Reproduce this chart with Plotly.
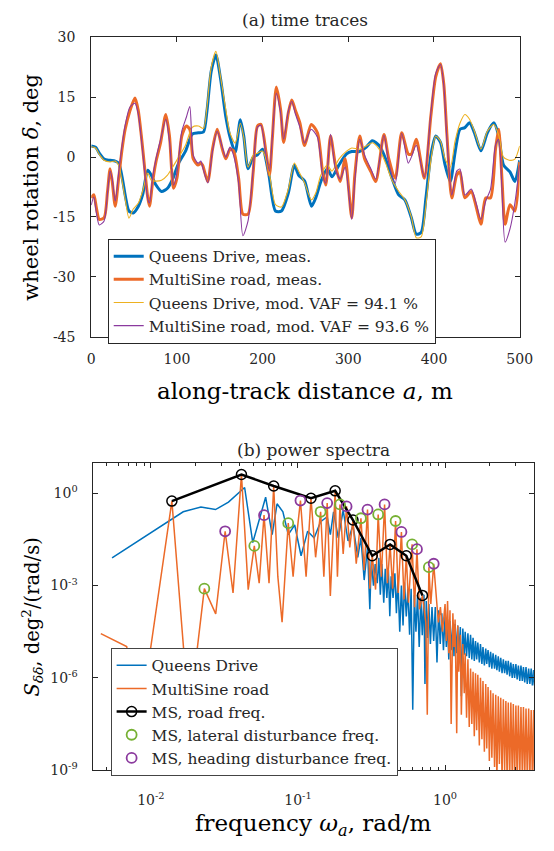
import numpy as np
import plotly.graph_objects as go

# ---------------- (a) time traces ----------------
qd_meas_dist = [0, 5, 10, 15, 22, 28, 32, 36, 40, 44, 49, 55, 60, 66, 70, 75, 82, 89, 95, 102,
                110, 118, 125, 131, 135, 140, 145.5, 151, 157, 162, 168, 174, 178, 183, 189, 194, 200,
                207, 215, 222, 230, 237, 242, 249, 257, 262, 268, 275.5, 281, 289, 298, 304, 313, 321,
                328, 336, 343.5, 351, 358.6, 366, 373.6, 379.3, 385, 390.6, 396.3, 402, 407.6, 413,
                419, 424.6, 430.3, 436, 441.5, 447.2, 454.8, 462.3, 469.9, 475.5, 481.2, 488.7, 494.4, 500]
qd_meas = [2.8, 2.5, 0.8, -0.5, -0.8, -1.0, -1.5, -5, -10, -13.5, -14, -12.3, -9.4, -3.3, -4.5, -6.8,
           -8.6, -7.8, -5.5, -1.5, 1.5, 5.8, 6.1, 6.3, 11.5, 21.5, 25.6, 19.5, 10.2, 5, 1.2, 9.4, 5.3,
           -2.9, 0, 0.6, 2, -4, -13.5, -13.5, -9.0, -2.0, -4.5, -6, -12.3, -10.2, -6.1, -2.9, -4.9, -2,
           0.8, 1.4, 1.4, 2.5, 4.1, 2.9, -0.4, -5.3, -9.4, -10.7, -15.2, -19.3, -18.9, -10.2, 0.4, 5.3,
           3.7, -2, -6.1, 1.2, 7, 7.4, 8.6, 6.1, 1.6, 6.1, 8.6, 5.3, -2, -3.7, -6.1, -0.8]

qd_mod_dist = qd_meas_dist
qd_mod = [2.6, 2.3, 0.5, -0.8, -1.2, -1.0, -2.0, -6, -11, -15.3, -13, -11.5, -8.5, -4.0, -5.8, -6.0,
          -5.8, -4.5, -2.5, 0, 3, 7.5, 7.8, 7.2, 12.5, 22.5, 26.5, 20, 12, 6, 3.5, 8.5, 5, -2.5, 0.5,
          1, 1.5, -3, -11.9, -12.5, -8.0, -1.5, -3.5, -6.5, -10.7, -9, -4.5, -2, -3.5, -0.5, 1.5, 2.3,
          2.0, 2.8, 3.6, 2.0, -1.5, -5.8, -8.5, -10.7, -15, -20.2, -20, -12, -1, 5.3, 4, -0.5, -2.5,
          4, 8.5, 10.7, 9.5, 6.5, 2, 6.5, 8.2, 5.5, 0, -0.8, -0.5, 2.8]

ms_meas_dist = [0, 3, 6, 9.4, 15, 19, 22, 24.5, 28, 32, 36, 39.6, 45, 51, 54.7, 58.5, 62, 66, 68, 71.7,
                75.5, 81, 87, 91.3, 96, 100, 105.7, 111, 115, 119, 124.5, 128, 130, 136, 141.5, 147,
                153, 157, 162, 166, 172, 177, 183, 189, 194, 198, 204, 208, 211.3, 216, 221, 224.5,
                230, 234, 238, 243.5, 249, 256.7, 264, 270, 273.7, 279.3, 285, 290.6, 296.3, 304,
                307.6, 313.3, 319, 326.5, 332, 341.6, 347.2, 354.8, 362.3, 370, 373.6, 379.3, 388.7,
                396.3, 402, 407.6, 411.4, 415.2, 420.8, 426.5, 430.3, 436, 443.5, 449.1, 454.8, 460.4,
                466, 471.8, 475.5, 479.3, 483, 488.7, 494.4, 500]
ms_meas = [-10.2, -9.4, -12.7, -15.6, -15.2, -8.6, -2.9, -6.1, -12.3, -5.3, 2, 7, 11.5, 14.8, 11.9,
           5.3, -2, -10.2, -12.3, -6.1, -1.2, 3.7, 10.7, 5.3, -7.8, -5.3, 5.3, 7.8, 7, -0.4, -2, -1.5,
           -2, -6.1, 2, 7, 2, -0.4, 2, 1.6, -5.3, -14.3, -14.3, -3.7, 7.8, 8.2, 1.2, -4.5, 4.5, 17.6,
           11.9, 3.7, 11.1, 14.3, 11.9, 8.6, 2.9, 8.2, 6.1, -3.7, -7, 5.3, -2, -6.1, -0.4, -15.2,
           -4.5, 5.3, -0.4, -3.7, -6.1, 5.7, -0.4, -5.3, 6.1, 0.8, 0.8, 4.5, -5.3, 10.2, 20.1, 23.4,
           18.4, 5.3, -10.2, -4.5, -3.7, -10.2, -8.6, -12.3, -16.8, -10.2, -10.2, 2, 7, -5.3, -16.8,
           -11.9, -13.5, -1.2]

ms_mod_dist = ms_meas_dist
ms_mod = [-12, -10, -14, -17.0, -16, -9, -3.5, -5.5, -11, -4, 3, 8, 12.5, 13.5, 11, 4.5, -3, -10.5,
          -11.5, -5, -0.5, 4.5, 9.5, 4, -7, -4, 6.5, 10, 12.7, 0.5, -1.5, -1, -2.5, -6.5, 1.5, 6.5,
          2.5, 0, 2.5, 0.5, -6.5, -19.7, -16, -3, 7.5, 8, 0.5, -3.5, 5, 16, 11, 4.5, 11.5, 14, 11,
          7.5, 3.5, 7, 5, -4.5, -6.5, 5.7, -3, -5.5, -2.5, -15.6, -6, 4.5, 0.5, -3, -5.5, 5.5, -1.5,
          -6.5, 6, -1.5, 0, 3, -5, 11, 21, 23.2, 18, 4, -9.5, -3.5, -3, -9.5, -8, -11.5, -15.6, -11,
          -8, 3, 4.5, -8, -21.3, -18, -11.5, -2]

dist_ticks = [0, 100, 200, 300, 400, 500]
rot_ticks = [-45, -30, -15, 0, 15, 30]
rot_ticktext = ["-45", "-30", "-15", "0", "15", "30"]

# ---------------- (b) power spectra (log10 of PSD) ----------------
qd_freq = [0.00545, 0.0166, 0.0219, 0.0275, 0.0337, 0.0434, 0.0493, 0.0603, 0.0668, 0.0721, 0.079,
           0.0859, 0.095, 0.105, 0.1164, 0.1288, 0.1426, 0.158, 0.166, 0.1746, 0.188, 0.203, 0.219,
           0.2366, 0.255, 0.268, 0.282,
           0.297, 0.308, 0.315, 0.326, 0.335, 0.346, 0.355, 0.363, 0.372, 0.383, 0.392, 0.402, 0.412,
           0.421, 0.43, 0.443, 0.456, 0.467, 0.478, 0.492, 0.505, 0.518, 0.53, 0.545, 0.559, 0.574,
           0.588, 0.603, 0.618, 0.634, 0.65, 0.667, 0.684, 0.70, 0.719, 0.73, 0.745, 0.76, 0.776,
           0.795, 0.815, 0.837, 0.858, 0.881, 0.904, 0.927, 0.95, 0.975,
           1.00, 1.02, 1.04, 1.06, 1.08, 1.10, 1.13, 1.15, 1.17, 1.20,
           1.22, 1.24, 1.27, 1.29, 1.32, 1.35, 1.37, 1.40, 1.43, 1.46,
           1.49, 1.52, 1.55, 1.58, 1.61, 1.64, 1.67, 1.71, 1.74, 1.78,
           1.81, 1.85, 1.89, 1.92, 1.96, 2.00, 2.04, 2.08, 2.12, 2.17,
           2.21, 2.25, 2.30, 2.34, 2.39, 2.44, 2.49, 2.54, 2.59, 2.64,
           2.69, 2.75, 2.80, 2.86, 2.91, 2.97, 3.03, 3.09, 3.15, 3.22,
           3.28, 3.35, 3.41, 3.48, 3.55, 3.62, 3.70, 3.77, 3.85, 3.92,
           4.00, 4.05]
qd_log_psd = [-2.10, -0.60, -0.443, -0.528, -0.285, 0.19, -1.60, -0.127, -1.34, -0.34, -0.6,
              -1.34, -1.03, -2.03, -1.23, -1.45, -0.92, -0.76, -1.34, -0.60, -1.45, -0.55, -1.55,
              -1.03, -2.08, -1.45, -2.82,
              -1.76, -3.77, -2.2, -3.0, -2.3, -2.92, -2.1, -3.3, -2.3, -3.56, -2.45, -3.4, -2.5,
              -4.0, -2.7, -3.4, -2.6, -3.9, -2.8, -4.5, -3.0, -4.3, -2.9, -4.0, -3.1, -4.6,
              -3.1, -7.04, -3.3, -4.5, -3.3, -5.0, -3.4, -4.61, -3.3, -6.2, -3.5, -4.7, -3.6,
              -4.9, -3.7, -4.8, -3.7, -5.5, -3.8, -4.9, -3.9, -5.1,
              -4.0, -5.0, -4.1, -5.4, -4.15, -5.1, -4.2, -5.3, -4.25, -5.2,
              -4.3, -5.3, -4.35, -6.6, -4.4, -5.25, -4.5, -5.3, -4.55, -5.35,
              -4.6, -5.4, -4.7, -5.45, -4.8, -5.4, -4.85, -5.5, -4.9, -5.55,
              -5.0, -5.6, -5.05, -5.55, -5.1, -5.65, -5.15, -5.7, -5.2, -5.7,
              -5.25, -5.75, -5.3, -5.8, -5.35, -5.85, -5.4, -5.85, -5.45, -5.9,
              -5.45, -5.95, -5.5, -6.0, -5.55, -6.0, -5.55, -6.05, -5.6, -6.1,
              -5.6, -6.1, -5.65, -6.15, -5.65, -6.2, -5.7, -6.2, -5.7, -6.25,
              -5.75, -6.25]

ms_freq = [0.00457, 0.00685, 0.0084, 0.0139, 0.0182, 0.0231, 0.0276, 0.032, 0.0362, 0.0413, 0.0459,
           0.0505, 0.0545, 0.0588, 0.0636, 0.0684, 0.073, 0.078, 0.0859, 0.0927, 0.0976, 0.104,
           0.1136, 0.1226, 0.1318, 0.1426, 0.150, 0.158, 0.166, 0.179, 0.1855, 0.193, 0.203, 0.214,
           0.225, 0.2366, 0.249, 0.268, 0.282, 0.297, 0.308, 0.32, 0.337, 0.351, 0.369, 0.388, 0.406,
           0.423, 0.44, 0.461, 0.48, 0.505, 0.526, 0.545, 0.564, 0.597, 0.62, 0.644, 0.67, 0.702,
           0.74, 0.757, 0.776, 0.80, 0.837, 0.88, 0.90, 0.93, 0.96,
           1.00, 1.02, 1.04, 1.06, 1.08, 1.10, 1.13, 1.15, 1.17, 1.20,
           1.22, 1.24, 1.27, 1.29, 1.32, 1.35, 1.37, 1.40, 1.43, 1.46,
           1.49, 1.52, 1.55, 1.58, 1.61, 1.64, 1.67, 1.71, 1.74, 1.78,
           1.81, 1.85, 1.89, 1.92, 1.96, 2.00, 2.04, 2.08, 2.12, 2.17,
           2.21, 2.25, 2.30, 2.34, 2.39, 2.44, 2.49, 2.54, 2.59, 2.64,
           2.69, 2.75, 2.80, 2.86, 2.91, 2.97, 3.03, 3.09, 3.15, 3.22,
           3.28, 3.35, 3.41, 3.48, 3.55, 3.62, 3.70, 3.77, 3.85, 3.92,
           4.00, 4.05]
ms_log_psd = [-4.56, -4.98, -7.5, -0.253, -7.3, -3.10, -3.92, -1.234, -3.24, 0.611, -3.13, -1.71,
              -2.92, -0.709, -2.92, 0.24, -2.71, -4.19, -0.97, -2.71, -1.45, -0.234, -2.71, -0.158,
              -2.08, -0.60, -2.71, -0.316, -3.34, 0.082, -2.71, -0.36, -1.97, -0.424, -1.76, -0.867,
              -2.29, -0.81, -2.5, -0.528, -3.1, -2.03, -3.13, -0.687, -2.71, -0.36, -2.92, -1.66,
              -3.1, -0.90, -3.24, -1.256, -3.45, -2.03, -3.56, -1.66, -3.7, -1.816, -3.77, -3.32,
              -4.2, -7.2, -2.40, -3.6, -2.29, -3.66, -4.2, -3.7, -4.5,
              -3.6, -4.8, -3.5, -5.2, -3.8, -7.5, -3.9, -5.0, -4.1, -7.8,
              -4.3, -5.8, -4.6, -7.2, -4.9, -6.5, -5.2, -7.3, -5.4, -7.6,
              -5.7, -7.5, -5.8, -7.9, -5.85, -7.7, -5.9, -8.2, -6.0, -8.0,
              -6.1, -8.4, -6.2, -8.3, -6.3, -8.7, -6.4, -8.6, -6.5, -8.9,
              -6.55, -9.3, -6.6, -8.8, -6.65, -9.3, -6.7, -9.0, -6.75, -9.3,
              -6.8, -9.3, -6.8, -9.1, -6.85, -9.3, -6.9, -9.3, -6.9, -9.3,
              -6.95, -9.2, -6.95, -9.3, -7.0, -9.3, -7.0, -9.3, -7.05, -9.3,
              -7.05, -9.3]

road_freq = [0.0139, 0.0413, 0.0684, 0.1226, 0.179, 0.2366, 0.32, 0.423, 0.545, 0.702]
road_log_psd = [-0.253, 0.611, 0.24, -0.158, 0.082, -0.867, -2.03, -1.66, -2.03, -3.32]

lat_freq = [0.0231, 0.0505, 0.0859, 0.1426, 0.193, 0.268, 0.351, 0.461, 0.597, 0.776]
lat_log_psd = [-3.10, -1.71, -0.97, -0.60, -0.36, -0.81, -0.687, -0.90, -1.66, -2.40]

head_freq = [0.032, 0.0588, 0.104, 0.158, 0.214, 0.297, 0.388, 0.505, 0.644, 0.837]
head_log_psd = [-1.234, -0.709, -0.234, -0.316, -0.424, -0.528, -0.36, -1.256, -1.816, -2.29]

freq_ticks = [0.01, 0.1, 1]
freq_ticktext = ["10<sup>-2</sup>", "10<sup>-1</sup>", "10<sup>0</sup>"]
freq_minor_ticks = [0.005, 0.006, 0.007, 0.008, 0.009, 0.02, 0.03, 0.04, 0.05, 0.06, 0.07, 0.08,
                    0.09, 0.2, 0.3, 0.4, 0.5, 0.6, 0.7, 0.8, 0.9, 2, 3, 4]
psd_ticks = [1e-9, 1e-6, 1e-3, 1]
psd_ticktext = ["10<sup>-9</sup>", "10<sup>-6</sup>", "10<sup>-3</sup>", "10<sup>0</sup>"]

# ---------------- styling ----------------
BLUE = "#0072BD"
ORANGE = "#EC6A28"
YELLOW = "#EDB120"
PURPLE = "#8B3A9E"
GREEN = "#77B134"
AXC = "#262626"
FONT = "DejaVu Serif"

fig = go.Figure()

def p(v):
    return 10 ** np.array(v, dtype=float)

fig.add_trace(go.Scatter(x=qd_meas_dist, y=qd_meas, mode="lines", name="Queens Drive, meas.",
                         line=dict(color=BLUE, width=3, shape="spline", smoothing=0.7),
                         xaxis="x", yaxis="y", legend="legend"))
fig.add_trace(go.Scatter(x=ms_meas_dist, y=ms_meas, mode="lines", name="MultiSine road, meas.",
                         line=dict(color=ORANGE, width=3, shape="spline", smoothing=0.7),
                         xaxis="x", yaxis="y", legend="legend"))
fig.add_trace(go.Scatter(x=qd_mod_dist, y=qd_mod, mode="lines", name="Queens Drive, mod. VAF = 94.1 %",
                         line=dict(color=YELLOW, width=1.1, shape="spline", smoothing=0.7),
                         xaxis="x", yaxis="y", legend="legend"))
fig.add_trace(go.Scatter(x=ms_mod_dist, y=ms_mod, mode="lines", name="MultiSine road, mod. VAF = 93.6 %",
                         line=dict(color=PURPLE, width=1.1, shape="spline", smoothing=0.7),
                         xaxis="x", yaxis="y", legend="legend"))

fig.add_trace(go.Scatter(x=qd_freq, y=p(qd_log_psd), mode="lines", name="Queens Drive",
                         line=dict(color=BLUE, width=1.5), xaxis="x2", yaxis="y2", legend="legend2"))
fig.add_trace(go.Scatter(x=ms_freq, y=p(ms_log_psd), mode="lines", name="MultiSine road",
                         line=dict(color=ORANGE, width=1.5), xaxis="x2", yaxis="y2", legend="legend2"))
fig.add_trace(go.Scatter(x=road_freq, y=p(road_log_psd), mode="lines+markers", name="MS, road freq.",
                         line=dict(color="black", width=2.5),
                         marker=dict(symbol="circle-open", size=10, color="black", line=dict(width=1.5)),
                         xaxis="x2", yaxis="y2", legend="legend2"))
fig.add_trace(go.Scatter(x=lat_freq, y=p(lat_log_psd), mode="markers", name="MS, lateral disturbance freq.",
                         marker=dict(symbol="circle-open", size=10, color=GREEN, line=dict(width=1.8)),
                         xaxis="x2", yaxis="y2", legend="legend2"))
fig.add_trace(go.Scatter(x=head_freq, y=p(head_log_psd), mode="markers", name="MS, heading disturbance freq.",
                         marker=dict(symbol="circle-open", size=10, color=PURPLE, line=dict(width=1.8)),
                         xaxis="x2", yaxis="y2", legend="legend2"))

W, H = 554, 851

def fx(px):
    return px / W

def fy(py):
    return 1 - py / H

axis_common = dict(showline=True, linecolor=AXC, linewidth=1, mirror="ticks", ticks="inside",
                   ticklen=5, tickcolor=AXC, showgrid=False, zeroline=False,
                   tickfont=dict(family=FONT, size=14, color=AXC))
minor_x = dict(tickmode="array", tickvals=freq_minor_ticks, ticks="inside", ticklen=3,
               tickcolor=AXC, showgrid=False)

fig.update_layout(
    width=W, height=H, autosize=False,
    margin=dict(l=0, r=0, t=0, b=0),
    paper_bgcolor="white", plot_bgcolor="white",
    font=dict(family=FONT, color="black"),
    xaxis=dict(domain=[fx(90), fx(532)], anchor="y", range=[0, 500], tickvals=dist_ticks,
               ticklabelstandoff=9, **axis_common),
    yaxis=dict(domain=[fy(335), fy(30)], anchor="x", range=[-45, 30], tickvals=rot_ticks,
               ticktext=rot_ticktext, ticklabelstandoff=12, **axis_common),
    xaxis2=dict(domain=[fx(92.3), fx(546.7)], anchor="y2", type="log", range=[-2.39, 0.604],
                tickvals=freq_ticks, ticktext=freq_ticktext, ticklabelstandoff=17,
                minor=minor_x, **axis_common),
    xaxis3=dict(domain=[fx(92.3), fx(546.7)], anchor="y2", overlaying="x2", side="top",
                type="log", range=[-2.39, 0.604], showline=False, showgrid=False, zeroline=False,
                showticklabels=False, tickvals=freq_ticks, ticks="inside", ticklen=5,
                tickcolor=AXC, minor=minor_x),
    yaxis2=dict(domain=[fy(776.7), fy(463.3)], anchor="x2", type="log", range=[-9, 1],
                tickvals=psd_ticks, ticktext=psd_ticktext, ticklabelstandoff=12, **axis_common),
    legend=dict(x=fx(107), y=fy(235), xanchor="left", yanchor="top", bgcolor="white",
                bordercolor=AXC, borderwidth=1, font=dict(family=FONT, size=15.5, color=AXC),
                itemwidth=30),
    legend2=dict(x=fx(110), y=fy(652), xanchor="left", yanchor="top", bgcolor="white",
                 bordercolor="#444444", borderwidth=1, font=dict(family=FONT, size=15.5, color=AXC),
                 itemwidth=30),
    showlegend=True,
)

ann_font_title = dict(family=FONT, size=17, color=AXC)
annotations = [
    dict(text="(a) time traces", x=fx(311), y=fy(12), font=ann_font_title),
    dict(text="(b) power spectra", x=fx(319.5), y=fy(450), font=ann_font_title),
    dict(text="wheel rotation <i>δ</i>, deg", x=fx(27), y=fy(183), textangle=-90,
         font=dict(family=FONT, size=21, color="black")),
    dict(text="along-track distance <i>a</i>, m", x=fx(311), y=fy(390),
         font=dict(family=FONT, size=23, color="black")),
    dict(text="<i>S</i><sub><i>δδ</i></sub>, deg<sup>2</sup>/(rad/s)", x=fx(29), y=fy(621),
         textangle=-90, font=dict(family=FONT, size=19.5, color="black")),
    dict(text="frequency <i>ω<sub>a</sub></i>, rad/m", x=fx(319), y=fy(833),
         font=dict(family=FONT, size=23, color="black")),
]
for a in annotations:
    a.update(xref="paper", yref="paper", showarrow=False, xanchor="center", yanchor="middle")
fig.update_layout(annotations=annotations)

fig.write_html("out.html")
